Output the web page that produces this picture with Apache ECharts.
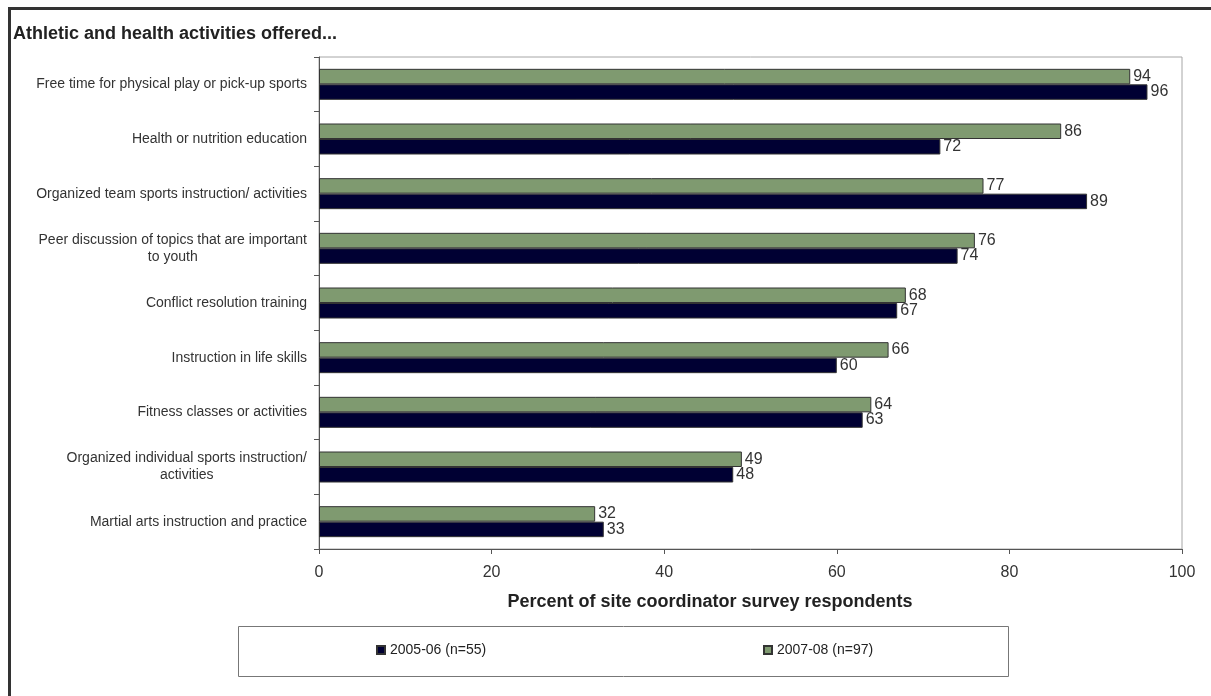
<!DOCTYPE html>
<html>
<head>
<meta charset="utf-8">
<script src="https://cdn.jsdelivr.net/npm/echarts@6/dist/echarts.min.js"></script>
<style>
html,body{margin:0;padding:0;background:#fff;}
#chart{width:1211px;height:696px;}
</style>
</head>
<body>
<div id="chart"></div>
<script>
const categories = [
  "Free time for physical play or pick-up sports",
  "Health or nutrition education",
  "Organized team sports instruction/ activities",
  "Peer discussion of topics that are important\nto youth",
  "Conflict resolution training",
  "Instruction in life skills",
  "Fitness classes or activities",
  "Organized individual sports instruction/\nactivities",
  "Martial arts instruction and practice"
];
const series2005 = [96, 72, 89, 74, 67, 60, 63, 48, 33];
const series2007 = [94, 86, 77, 76, 68, 66, 64, 49, 32];
const xTicks = [0, 20, 40, 60, 80, 100];
const seriesNames = ["2005-06 (n=55)", "2007-08 (n=97)"];
const chartTitle = "Athletic and health activities offered...";
const xTitle = "Percent of site coordinator survey respondents";

const FONT = "Liberation Sans, Arial, sans-serif";
const chart = echarts.init(document.getElementById('chart'), null, {renderer: 'canvas'});

const labelStyle = {
  show: true, position: 'right', distance: 3,
  color: '#333', fontSize: 16, fontFamily: FONT
};

chart.setOption({
  animation: false,
  backgroundColor: '#fff',
  grid: {left: 319, right: 29, top: 57, bottom: 147, show: true, borderColor: '#a6a6a6', borderWidth: 1},
  xAxis: {
    type: 'value', min: xTicks[0], max: xTicks[xTicks.length - 1], interval: 20,
    splitLine: {show: false},
    axisLine: {show: true, lineStyle: {color: '#555'}},
    axisTick: {show: true, length: 5, lineStyle: {color: '#555'}},
    axisLabel: {color: '#333', fontSize: 16, fontFamily: FONT, margin: 16}
  },
  yAxis: {
    type: 'category', data: categories, inverse: true,
    axisLine: {show: true, lineStyle: {color: '#555'}},
    axisTick: {show: true, length: 5, lineStyle: {color: '#555'}},
    axisLabel: {
      color: '#333', fontSize: 14, fontFamily: FONT, margin: 12, lineHeight: 17,
      formatter: function (v) {
        return v.split('\n').map(function (s) { return '{c|' + s + '}'; }).join('\n');
      },
      rich: {c: {align: 'center', color: '#333', fontSize: 14, fontFamily: FONT, lineHeight: 17}}
    }
  },
  legend: [
    {data: [seriesNames[0]], left: 376, top: 643, icon: 'rect', itemWidth: 8, itemHeight: 8, itemGap: 4,
     textStyle: {color: '#222', fontSize: 14, fontFamily: FONT}, padding: 0},
    {data: [seriesNames[1]], left: 763, top: 643, icon: 'rect', itemWidth: 8, itemHeight: 8, itemGap: 4,
     textStyle: {color: '#222', fontSize: 14, fontFamily: FONT}, padding: 0}
  ],
  graphic: [
    {type: 'rect', shape: {x: 9.5, y: 8.5, width: 1400, height: 900}, style: {fill: 'none', stroke: '#333', lineWidth: 3}, silent: true},
    {type: 'rect', shape: {x: 238.5, y: 626.5, width: 770, height: 50}, style: {fill: 'none', stroke: '#777', lineWidth: 1}, silent: true},
    {type: 'text', left: 13, top: 25, style: {text: chartTitle, fill: '#222', font: 'bold 18px ' + FONT}},
    {type: 'text', x: 710, y: 602, style: {text: xTitle, fill: '#222', font: 'bold 18px ' + FONT, textAlign: 'center', textVerticalAlign: 'middle'}}
  ],
  series: [
    {
      name: seriesNames[1], type: 'bar', data: series2007, barWidth: 15.5, barGap: '0%',
      itemStyle: {color: '#7f9a70', borderColor: '#333', borderWidth: 1},
      label: labelStyle
    },
    {
      name: seriesNames[0], type: 'bar', data: series2005, barWidth: 15.5, barGap: '0%',
      itemStyle: {color: '#000033', borderColor: '#333', borderWidth: 1},
      label: labelStyle
    }
  ]
});
</script>
</body>
</html>
